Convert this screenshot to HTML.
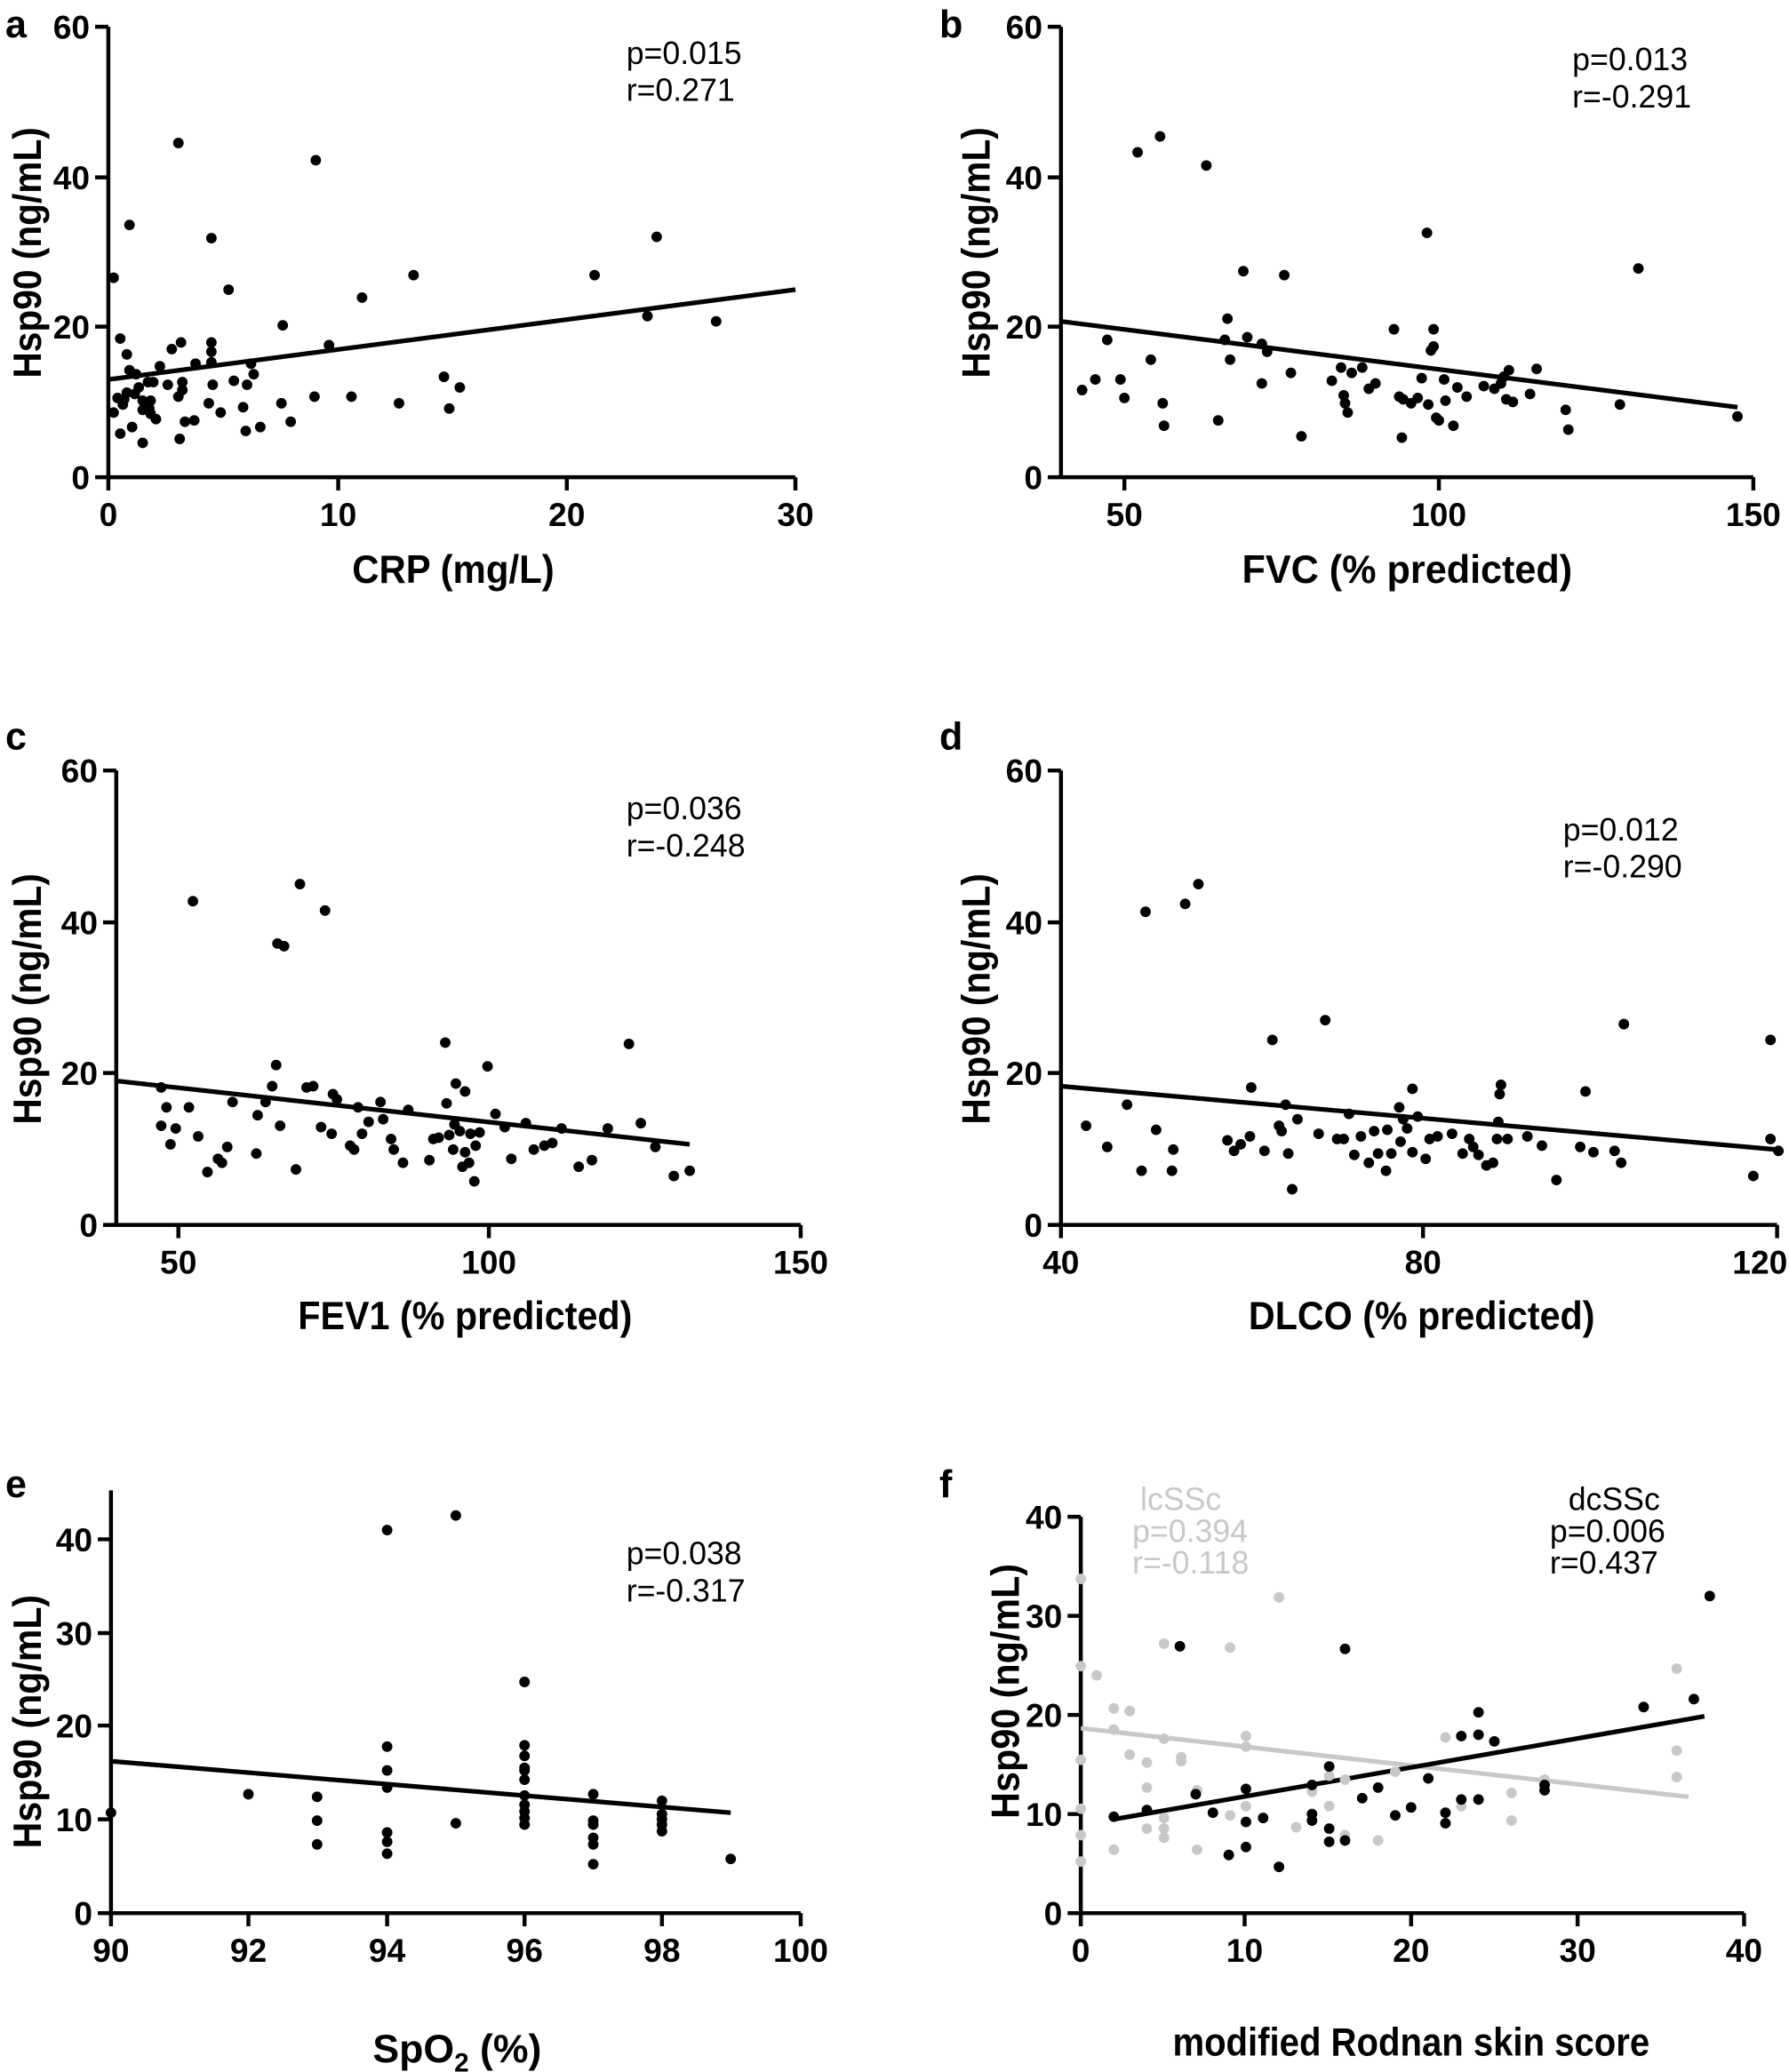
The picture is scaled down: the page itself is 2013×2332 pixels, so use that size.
<!DOCTYPE html>
<html><head><style>html,body{margin:0;padding:0;background:#fff}svg{display:block}</style></head><body>
<svg xmlns="http://www.w3.org/2000/svg" width="2013" height="2332" viewBox="0 0 1354 1568" font-family="Liberation Sans, Arial, sans-serif">
<rect width="1354" height="1568" fill="#fff"/>
<g font-weight="bold" font-size="29">
<text x="4" y="28">a</text><text x="711" y="28">b</text><text x="4" y="567">c</text><text x="711" y="567">d</text><text x="4" y="1133">e</text><text x="711" y="1133">f</text>
</g>
<g stroke="#000" stroke-width="3" fill="none">
<path d="M82 20V361H602M72 20H82M72 134H82M72 247H82M72 361H82M82 361v10M256 361v10M429 361v10M602 361v10"/>
<path d="M803 20V361H1327M793 20H803M793 134H803M793 247H803M793 361H803M851 361v10M1089 361v10M1327 361v10"/>
<path d="M88 583V927H606M78 583H88M78 698H88M78 812H88M78 927H88M135 927v10M370 927v10M606 927v10"/>
<path d="M803 583V927H1345M793 583H803M793 698H803M793 812H803M793 927H803M803 927v10M1077 927v10M1345 927v10"/>
<path d="M84 1128V1448H606M74 1165H84M74 1236H84M74 1306H84M74 1377H84M74 1448H84M84 1448v10M188 1448v10M293 1448v10M397 1448v10M501 1448v10M606 1448v10"/>
<path d="M818 1148V1448H1320M808 1148H818M808 1223H818M808 1298H818M808 1373H818M808 1448H818M818 1448v10M942 1448v10M1068 1448v10M1194 1448v10M1320 1448v10"/>
</g>
<g font-weight="bold" font-size="25" text-anchor="end">
<text x="68" y="29">60</text><text x="68" y="143">40</text><text x="68" y="256">20</text><text x="68" y="370">0</text>
<text x="789" y="29">60</text><text x="789" y="143">40</text><text x="789" y="256">20</text><text x="789" y="370">0</text>
<text x="74" y="592">60</text><text x="74" y="707">40</text><text x="74" y="821">20</text><text x="74" y="936">0</text>
<text x="789" y="592">60</text><text x="789" y="707">40</text><text x="789" y="821">20</text><text x="789" y="936">0</text>
<text x="70" y="1174">40</text><text x="70" y="1245">30</text><text x="70" y="1315">20</text><text x="70" y="1386">10</text><text x="70" y="1457">0</text>
<text x="804" y="1157">40</text><text x="804" y="1232">30</text><text x="804" y="1307">20</text><text x="804" y="1382">10</text><text x="804" y="1457">0</text>
</g>
<g font-weight="bold" font-size="25" text-anchor="middle">
<text x="82" y="398">0</text><text x="256" y="398">10</text><text x="429" y="398">20</text><text x="602" y="398">30</text>
<text x="851" y="398">50</text><text x="1089" y="398">100</text><text x="1327" y="398">150</text>
<text x="135" y="964">50</text><text x="370" y="964">100</text><text x="606" y="964">150</text>
<text x="803" y="964">40</text><text x="1077" y="964">80</text><text x="1332" y="964">120</text>
<text x="84" y="1485">90</text><text x="188" y="1485">92</text><text x="293" y="1485">94</text><text x="397" y="1485">96</text><text x="501" y="1485">98</text><text x="606" y="1485">100</text>
<text x="818" y="1485">0</text><text x="942" y="1485">10</text><text x="1068" y="1485">20</text><text x="1194" y="1485">30</text><text x="1320" y="1485">40</text>
</g>
<g font-weight="bold" font-size="30" text-anchor="middle" lengthAdjust="spacingAndGlyphs">
<text x="343" y="441" textLength="153" lengthAdjust="spacingAndGlyphs">CRP (mg/L)</text>
<text x="1065" y="441" textLength="250" lengthAdjust="spacingAndGlyphs">FVC (% predicted)</text>
<text x="352" y="1006" textLength="253" lengthAdjust="spacingAndGlyphs">FEV1 (% predicted)</text>
<text x="1076" y="1006" textLength="262" lengthAdjust="spacingAndGlyphs">DLCO (% predicted)</text>
<text x="346" y="1561">SpO<tspan font-size="20" dy="7">2</tspan><tspan dy="-7"> (%)</tspan></text>
<text x="1068" y="1556" textLength="361" lengthAdjust="spacingAndGlyphs">modified Rodnan skin score</text>
<text transform="translate(31,191) rotate(-90)" textLength="190" lengthAdjust="spacingAndGlyphs">Hsp90 (ng/mL)</text>
<text transform="translate(749,191) rotate(-90)" textLength="190" lengthAdjust="spacingAndGlyphs">Hsp90 (ng/mL)</text>
<text transform="translate(31,756) rotate(-90)" textLength="190" lengthAdjust="spacingAndGlyphs">Hsp90 (ng/mL)</text>
<text transform="translate(749,756) rotate(-90)" textLength="190" lengthAdjust="spacingAndGlyphs">Hsp90 (ng/mL)</text>
<text transform="translate(31,1303) rotate(-90)" textLength="192" lengthAdjust="spacingAndGlyphs">Hsp90 (ng/mL)</text>
<text transform="translate(771,1280) rotate(-90)" textLength="193" lengthAdjust="spacingAndGlyphs">Hsp90 (ng/mL)</text>
</g>
<g font-size="24">
<text x="474" y="48">p=0.015</text><text x="474" y="76">r=0.271</text>
<text x="1190" y="53">p=0.013</text><text x="1190" y="81">r=-0.291</text>
<text x="474" y="620">p=0.036</text><text x="474" y="648">r=-0.248</text>
<text x="1183" y="636">p=0.012</text><text x="1183" y="664">r=-0.290</text>
<text x="474" y="1184">p=0.038</text><text x="474" y="1212">r=-0.317</text>
<g fill="#c8c8c8"><text x="863" y="1143">lcSSc</text><text x="857" y="1167">p=0.394</text><text x="857" y="1191">r=-0.118</text></g>
<text x="1187" y="1143">dcSSc</text><text x="1173" y="1167">p=0.006</text><text x="1173" y="1191">r=0.437</text>
</g>
<g stroke-width="3.5" fill="none">
<path stroke="#c8c8c8" d="M818 1308L1278 1360"/>
<path stroke="#000" d="M82 287L602 219M803 243L1315 308M88 818L522 866M803 822L1345 870M84 1333L553 1372M843 1377L1290 1299"/>
</g>
<path stroke="#c8c8c8" stroke-width="8" stroke-linecap="round" fill="none" d="M818 1195h0M818 1261h0M830 1268h0M818 1332h0M818 1369h0M818 1389h0M818 1409h0M843 1293h0M843 1309h0M843 1400h0M855 1295h0M855 1328h0M868 1334h0M868 1353h0M868 1384h0M881 1244h0M881 1316h0M881 1376h0M881 1384h0M881 1391h0M894 1330h0M894 1333h0M906 1355h0M906 1400h0M931 1247h0M931 1374h0M943 1314h0M943 1322h0M943 1367h0M968 1209h0M981 1383h0M993 1356h0M1006 1344h0M1006 1367h0M1018 1347h0M1018 1389h0M1043 1393h0M1056 1341h0M1094 1315h0M1106 1367h0M1144 1357h0M1144 1378h0M1169 1347h0M1269 1263h0M1269 1325h0M1269 1345h0M1282 1286h0"/>
<path stroke="#000" stroke-width="8" stroke-linecap="round" fill="none" d="
M86 210h0M135 108h0M239 121h0M98 170h0M160 180h0M173 219h0M497 179h0M450 208h0M313 208h0M274 225h0M490 239h0M542 243h0M214 246h0M249 261h0M91 256h0M96 268h0M130 264h0M137 259h0M160 259h0M160 266h0M148 275h0M160 274h0M190 275h0M121 277h0M98 280h0M103 283h0M192 283h0M177 288h0M112 289h0M116 289h0M138 289h0M127 291h0M187 291h0M161 291h0M105 293h0M138 295h0M96 297h0M102 298h0M89 301h0M94 302h0M135 300h0M238 300h0M266 300h0M336 285h0M348 293h0M340 309h0M213 305h0M302 305h0M158 305h0M184 308h0M93 306h0M108 303h0M114 303h0M113 309h0M108 310h0M114 313h0M118 317h0M86 312h0M167 312h0M140 319h0M147 318h0M220 319h0M100 323h0M186 326h0M197 323h0M91 328h0M136 332h0M108 335h0
M819 295h0M829 287h0M838 257h0M848 287h0M851 301h0M861 115h0M871 272h0M878 103h0M880 305h0M881 322h0M913 125h0M922 318h0M927 257h0M929 241h0M931 272h0M941 205h0M944 255h0M955 260h0M955 290h0M959 266h0M972 208h0M977 282h0M985 330h0M1008 288h0M1015 278h0M1017 299h0M1018 305h0M1020 312h0M1023 282h0M1031 278h0M1036 294h0M1041 290h0M1055 249h0M1059 300h0M1061 331h0M1062 302h0M1068 305h0M1073 301h0M1076 286h0M1080 176h0M1081 306h0M1083 265h0M1085 249h0M1085 262h0M1087 316h0M1089 318h0M1093 287h0M1094 303h0M1100 322h0M1103 293h0M1110 300h0M1123 292h0M1131 294h0M1136 290h0M1138 285h0M1140 302h0M1142 280h0M1145 304h0M1158 298h0M1163 279h0M1185 310h0M1187 325h0M1226 306h0M1240 203h0M1315 315h0
M122 823h0M122 852h0M126 838h0M129 866h0M133 854h0M146 682h0M143 838h0M150 860h0M157 887h0M165 877h0M168 880h0M172 868h0M176 834h0M194 873h0M195 844h0M201 834h0M206 822h0M209 806h0M210 714h0M215 716h0M212 852h0M224 885h0M227 669h0M232 823h0M237 822h0M243 853h0M246 689h0M251 858h0M252 828h0M255 832h0M265 867h0M268 870h0M271 838h0M274 858h0M279 849h0M288 834h0M290 847h0M296 862h0M298 870h0M305 880h0M309 840h0M325 878h0M328 862h0M332 861h0M337 789h0M338 835h0M340 859h0M343 870h0M344 851h0M345 820h0M348 856h0M350 883h0M352 872h0M352 826h0M355 880h0M356 858h0M359 894h0M360 867h0M363 857h0M369 807h0M375 843h0M382 853h0M387 877h0M398 850h0M404 870h0M412 867h0M418 865h0M425 854h0M438 883h0M448 878h0M460 854h0M476 790h0M485 850h0M496 868h0M510 890h0M522 886h0
M822 852h0M838 868h0M853 836h0M864 886h0M867 690h0M875 855h0M887 886h0M888 870h0M897 684h0M907 669h0M929 863h0M934 871h0M939 866h0M946 860h0M947 823h0M957 871h0M963 787h0M968 852h0M970 856h0M973 836h0M975 873h0M978 900h0M982 847h0M998 858h0M1003 772h0M1012 862h0M1017 862h0M1021 843h0M1025 874h0M1030 860h0M1036 880h0M1040 856h0M1043 873h0M1049 886h0M1050 855h0M1053 873h0M1059 838h0M1060 864h0M1062 847h0M1065 854h0M1069 824h0M1069 872h0M1073 845h0M1079 877h0M1082 862h0M1088 860h0M1099 858h0M1107 873h0M1112 862h0M1115 868h0M1119 874h0M1125 882h0M1130 880h0M1133 862h0M1134 849h0M1135 828h0M1136 821h0M1141 862h0M1156 860h0M1167 867h0M1178 893h0M1196 868h0M1200 826h0M1206 872h0M1222 871h0M1227 880h0M1229 775h0M1327 890h0M1340 787h0M1340 862h0M1346 871h0
M84 1372h0M188 1358h0M240 1360h0M240 1378h0M240 1396h0M293 1158h0M293 1322h0M293 1340h0M293 1353h0M293 1387h0M293 1394h0M293 1403h0M345 1147h0M345 1380h0M397 1273h0M397 1321h0M397 1329h0M397 1338h0M397 1340h0M397 1347h0M397 1359h0M397 1366h0M397 1371h0M397 1376h0M397 1381h0M449 1358h0M449 1378h0M449 1381h0M449 1391h0M449 1396h0M449 1411h0M501 1363h0M501 1373h0M501 1377h0M501 1381h0M501 1386h0M553 1407h0
M843 1375h0M868 1370h0M893 1246h0M905 1358h0M918 1372h0M930 1404h0M943 1354h0M943 1379h0M943 1398h0M956 1376h0M968 1413h0M993 1351h0M993 1373h0M993 1378h0M1006 1384h0M1006 1394h0M1006 1337h0M1018 1248h0M1018 1393h0M1031 1361h0M1043 1353h0M1056 1374h0M1068 1368h0M1081 1346h0M1094 1372h0M1094 1380h0M1106 1314h0M1106 1362h0M1119 1313h0M1119 1362h0M1119 1296h0M1131 1318h0M1169 1351h0M1169 1355h0M1244 1292h0M1282 1286h0M1294 1208h0"/>
</svg>
</body></html>
